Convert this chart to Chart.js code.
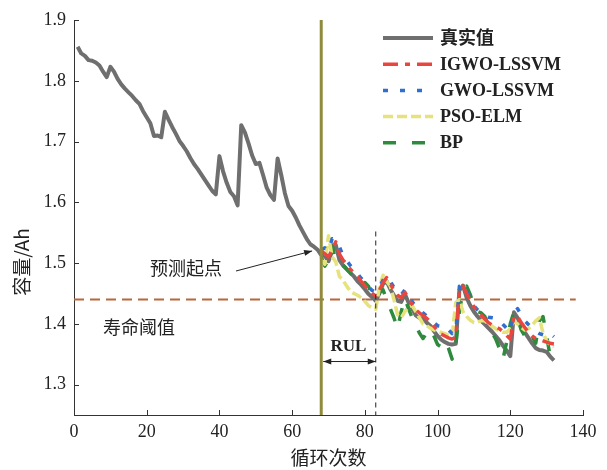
<!DOCTYPE html>
<html>
<head>
<meta charset="utf-8">
<script src="https://cdn.jsdelivr.net/npm/chart.js@4.4.1/dist/chart.umd.min.js"></script>
<style>
  html, body { margin: 0; padding: 0; background: #fff; }
  #wrap { width: 607px; height: 470px; }
</style>
</head>
<body>
<div id="wrap"><canvas id="grafico" width="607" height="470"></canvas></div>
<script>
// DADOS: capacidade real por ciclo (ciclo 1 a 132)
const capReal = [
  1.856, 1.845, 1.841, 1.834, 1.833, 1.830, 1.825, 1.815, 1.806, 1.823,
  1.815, 1.803, 1.794, 1.787, 1.781, 1.775, 1.768, 1.762, 1.750, 1.740,
  1.730, 1.709, 1.710, 1.707, 1.749, 1.736, 1.724, 1.713, 1.701, 1.693,
  1.684, 1.673, 1.663, 1.655, 1.646, 1.637, 1.628, 1.619, 1.613, 1.676,
  1.651, 1.632, 1.617, 1.610, 1.595, 1.727, 1.715, 1.697, 1.677, 1.663,
  1.665, 1.645, 1.624, 1.612, 1.604, 1.672, 1.645, 1.615, 1.594, 1.586,
  1.575, 1.562, 1.551, 1.540, 1.531, 1.527, 1.522, 1.513, 1.512, 1.503,
  1.520, 1.530, 1.505, 1.496, 1.490, 1.484, 1.478, 1.470, 1.464, 1.457,
  1.449, 1.444, 1.438, 1.450, 1.466, 1.470, 1.457, 1.447, 1.438, 1.436,
  1.449, 1.435, 1.425, 1.414, 1.410, 1.408, 1.402, 1.397, 1.388, 1.380,
  1.374, 1.370, 1.367, 1.366, 1.367, 1.455, 1.463, 1.443, 1.430, 1.420,
  1.412, 1.405, 1.399, 1.393, 1.387, 1.380, 1.373, 1.364, 1.356, 1.347,
  1.419, 1.410, 1.396, 1.386, 1.377, 1.368, 1.360, 1.357, 1.356, 1.354,
  1.346, 1.340
];

// PREVISOES (ciclo 68 a 132)
const igwoLssvm = [
  1.520, 1.515, 1.510, 1.522, 1.535, 1.515, 1.505, 1.498, 1.490, 1.484,
  1.478, 1.470, 1.463, 1.456, 1.450, 1.446, 1.455, 1.468, 1.476, 1.466,
  1.455, 1.447, 1.443, 1.452, 1.442, 1.432, 1.423, 1.418, 1.414, 1.409,
  1.404, 1.396, 1.389, 1.383, 1.380, 1.377, 1.375, 1.378, 1.455, 1.462,
  1.450, 1.438, 1.428, 1.420, 1.414, 1.408, 1.402, 1.398, 1.395, 1.392,
  1.387, 1.381, 1.375, 1.413, 1.412, 1.402, 1.394, 1.386, 1.380, 1.376,
  1.374, 1.372, 1.370, 1.368, 1.367
];
const gwoLssvm = [
  1.522, 1.525, 1.520, 1.540, 1.538, 1.527, 1.512, 1.504, 1.496, 1.489,
  1.482, 1.475, 1.469, 1.461, 1.455, 1.452, 1.460, 1.472, 1.478, 1.470,
  1.460, 1.452, 1.448, 1.456, 1.447, 1.437, 1.428, 1.422, 1.418, 1.413,
  1.408, 1.402, 1.397, 1.396, 1.397, 1.390, 1.384, 1.385, 1.462, 1.466,
  1.455, 1.442, 1.430, 1.423, 1.418, 1.414, 1.411, 1.410, 1.409, 1.405,
  1.399, 1.393, 1.387, 1.418, 1.425, 1.414, 1.405, 1.399, 1.393, 1.388,
  1.384, 1.382, 1.380, 1.384, 1.379
];
const psoElm = [
  1.505, 1.498, 1.545, 1.510, 1.502, 1.478, 1.472, 1.462, 1.454, 1.450,
  1.447, 1.443, 1.437, 1.430, 1.426, 1.424, 1.460, 1.480, 1.470, 1.462,
  1.440, 1.415, 1.410, 1.420, 1.428, 1.430, 1.420, 1.410, 1.400, 1.397,
  1.393, 1.390, 1.388, 1.386, 1.384, 1.381, 1.380, 1.435, 1.440, 1.420,
  1.412, 1.406, 1.402, 1.403, 1.405, 1.405, 1.400, 1.396, 1.392, 1.388,
  1.386, 1.386, 1.392, 1.404, 1.400, 1.394, 1.390, 1.392, 1.398, 1.405,
  1.410, 1.385, 1.372, 1.365, 1.362
];
const bp = [
  1.510, 1.495, 1.505, 1.530, 1.502, 1.500, 1.497, 1.490, 1.484, 1.475,
  1.468, 1.462, 1.468, 1.462, 1.445, 1.440, 1.452, 1.456, 1.440, 1.425,
  1.410, 1.392, 1.420, 1.442, 1.425, 1.410, 1.398, 1.385, 1.376, 1.385,
  1.392, 1.380, 1.366, 1.362, 1.372, 1.360, 1.342, 1.365, 1.420, 1.455,
  1.462, 1.448, 1.430, 1.420, 1.418, 1.412, 1.398, 1.385, 1.375, 1.360,
  1.342, 1.370, 1.400, 1.420, 1.410, 1.390, 1.380, 1.370, 1.380, 1.368,
  1.405, 1.412, 1.380, 1.345, 1.340
];

const nomesSeries = ['真实值', 'IGWO-LSSVM', 'GWO-LSSVM', 'PSO-ELM', 'BP'];
const ticksX = [0, 20, 40, 60, 80, 100, 120, 140];
const ticksY = [1.3, 1.4, 1.5, 1.6, 1.7, 1.8, 1.9];
const inicioPrevisao = 68;
const fimRul = 83;
const limiar = 1.44;

const fonteSerif = '"Liberation Serif", "Noto Sans CJK SC", serif';

function pontos(valores, inicio) {
  return valores.map((v, i) => ({ x: inicio + i, y: v }));
}

// ANOTACOES, TICKS INTERNOS E LEGENDA
const anotacoes = {
  id: 'anotacoes',
  beforeDatasetsDraw(chart) {
    const { ctx, scales: { x, y } } = chart;
    ctx.save();
    // linha do limiar
    ctx.strokeStyle = '#b9653d';
    ctx.lineWidth = 2;
    ctx.setLineDash([10, 6]);
    ctx.beginPath();
    ctx.moveTo(x.getPixelForValue(0), y.getPixelForValue(limiar));
    ctx.lineTo(x.getPixelForValue(138), y.getPixelForValue(limiar));
    ctx.stroke();
    ctx.restore();
  },
  afterDatasetsDraw(chart) {
    const { ctx, chartArea, scales: { x, y } } = chart;
    ctx.save();

    // ponto de inicio da previsao
    const xIni = x.getPixelForValue(inicioPrevisao);
    ctx.strokeStyle = '#908a3c';
    ctx.lineWidth = 3;
    ctx.beginPath();
    ctx.moveTo(xIni, chartArea.top);
    ctx.lineTo(xIni, chartArea.bottom);
    ctx.stroke();

    // linha tracejada do fim do RUL
    const xFim = x.getPixelForValue(fimRul);
    ctx.strokeStyle = '#222';
    ctx.lineWidth = 1;
    ctx.setLineDash([5, 4]);
    ctx.beginPath();
    ctx.moveTo(xFim, y.getPixelForValue(1.552));
    ctx.lineTo(xFim, chartArea.bottom);
    ctx.stroke();
    ctx.setLineDash([]);

    // ticks internos
    ctx.strokeStyle = '#333';
    ctx.lineWidth = 1;
    ticksX.forEach(v => {
      const px = Math.round(x.getPixelForValue(v)) + 0.5;
      ctx.beginPath();
      ctx.moveTo(px, chartArea.bottom);
      ctx.lineTo(px, chartArea.bottom - 5);
      ctx.stroke();
    });
    ticksY.forEach(v => {
      const py = Math.round(y.getPixelForValue(v)) + 0.5;
      ctx.beginPath();
      ctx.moveTo(chartArea.left, py);
      ctx.lineTo(chartArea.left + 5, py);
      ctx.stroke();
    });

    // seta RUL
    const yR = y.getPixelForValue(1.338);
    ctx.fillStyle = '#222';
    ctx.strokeStyle = '#222';
    ctx.beginPath();
    ctx.moveTo(xIni + 2, yR);
    ctx.lineTo(xFim, yR);
    ctx.stroke();
    seta(ctx, xIni + 2, yR, -1, 0);
    seta(ctx, xFim, yR, 1, 0);
    ctx.font = 'bold 17px ' + fonteSerif;
    ctx.textAlign = 'center';
    ctx.textBaseline = 'middle';
    ctx.fillText('RUL', (xIni + xFim) / 2, yR - 15);

    // texto e seta do inicio da previsao
    ctx.font = '18px "Noto Sans CJK SC", sans-serif';
    ctx.textAlign = 'left';
    ctx.fillText('预测起点', 150, 268);
    const xa = x.getPixelForValue(inicioPrevisao - 2.5);
    const ya = y.getPixelForValue(1.52);
    ctx.beginPath();
    ctx.moveTo(236, 271);
    ctx.lineTo(xa, ya);
    ctx.stroke();
    const dx = xa - 236, dy = ya - 271, d = Math.hypot(dx, dy);
    seta(ctx, xa, ya, dx / d, dy / d);

    // texto do limiar
    ctx.fillText('寿命阈值', 103, 327);

    // titulos dos eixos
    ctx.font = '19px "Noto Sans CJK SC", sans-serif';
    ctx.textAlign = 'center';
    ctx.fillText('循环次数', (chartArea.left + chartArea.right) / 2, 458);
    ctx.translate(22, 262);
    ctx.rotate(-Math.PI / 2);
    ctx.fillText('容量/Ah', 0, 0);
    ctx.restore();

    // legenda
    ctx.save();
    chart.data.datasets.forEach((ds, i) => {
      const yl = 38 + i * 26.2;
      ctx.strokeStyle = ds.borderColor;
      ctx.lineWidth = ds.borderWidth;
      ctx.setLineDash(ds.borderDash || []);
      ctx.beginPath();
      ctx.moveTo(383, yl);
      ctx.lineTo(433, yl);
      ctx.stroke();
      ctx.setLineDash([]);
      ctx.fillStyle = '#222';
      ctx.font = 'bold 18px ' + fonteSerif;
      ctx.textAlign = 'left';
      ctx.textBaseline = 'middle';
      ctx.fillText(ds.label, 440, yl + 1);
    });
    ctx.restore();
  }
};

function seta(ctx, x, y, ux, uy) {
  const L = 8, W = 3;
  ctx.beginPath();
  ctx.moveTo(x, y);
  ctx.lineTo(x - ux * L - uy * W, y - uy * L + ux * W);
  ctx.lineTo(x - ux * L + uy * W, y - uy * L - ux * W);
  ctx.closePath();
  ctx.fill();
}

const ctxGraf = document.getElementById('grafico').getContext('2d');

const grafico = new Chart(ctxGraf, {
  type: 'line',
  data: {
    datasets: [
      {
        label: nomesSeries[0],
        data: pontos(capReal, 1),
        borderColor: '#6f6f6f',
        borderWidth: 4,
        order: 5
      },
      {
        label: nomesSeries[1],
        data: pontos(igwoLssvm, inicioPrevisao),
        borderColor: '#e8463f',
        borderWidth: 3.5,
        borderDash: [15, 7, 5, 7],
        order: 1
      },
      {
        label: nomesSeries[2],
        data: pontos(gwoLssvm, inicioPrevisao),
        borderColor: '#2f6fcf',
        borderWidth: 3.5,
        borderDash: [5, 12],
        order: 2
      },
      {
        label: nomesSeries[3],
        data: pontos(psoElm, inicioPrevisao),
        borderColor: '#e6e27c',
        borderWidth: 3.5,
        borderDash: [10, 4],
        order: 3
      },
      {
        label: nomesSeries[4],
        data: pontos(bp, inicioPrevisao),
        borderColor: '#2e8b3e',
        borderWidth: 3.5,
        borderDash: [13, 16],
        order: 4
      }
    ]
  },
  options: {
    responsive: false,
    animation: false,
    devicePixelRatio: 1,
    layout: { padding: { top: 20, right: 24, left: 0, bottom: 0 } },
    elements: { point: { radius: 0 }, line: { tension: 0, borderJoinStyle: 'round' } },
    plugins: { legend: { display: false }, tooltip: { enabled: false } },
    scales: {
      x: {
        type: 'linear',
        min: 0,
        max: 140,
        afterFit: s => { s.height = 55; },
        afterBuildTicks: s => { s.ticks = ticksX.map(v => ({ value: v })); },
        grid: { display: true, drawOnChartArea: false, drawTicks: false },
        border: { display: true, color: '#333', width: 1 },
        ticks: { padding: 6, color: '#222', font: { family: fonteSerif, size: 18 } }
      },
      y: {
        type: 'linear',
        min: 1.25,
        max: 1.9,
        afterFit: s => { s.width = 74; },
        afterBuildTicks: s => { s.ticks = ticksY.map(v => ({ value: v })); },
        grid: { display: true, drawOnChartArea: false, drawTicks: false },
        border: { display: true, color: '#333', width: 1 },
        ticks: {
          padding: 8,
          color: '#222',
          font: { family: fonteSerif, size: 18 },
          callback: v => v.toFixed(1)
        }
      }
    }
  },
  plugins: [anotacoes]
});
</script>
</body>
</html>
